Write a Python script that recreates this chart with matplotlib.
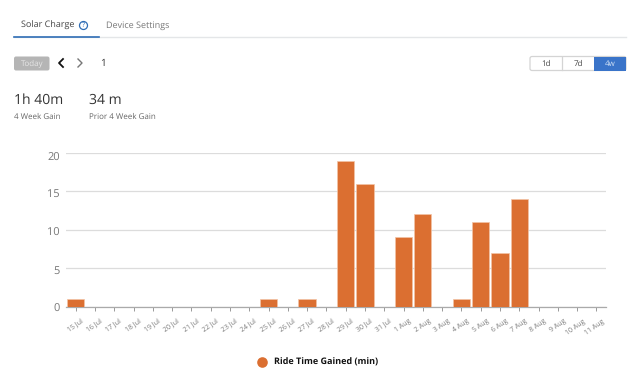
import matplotlib
matplotlib.use('Agg')
import matplotlib.pyplot as plt
from matplotlib.patches import FancyBboxPatch, Rectangle, Circle
from matplotlib.transforms import ScaledTranslation

plt.rcParams['font.family'] = ['Open Sans', 'DejaVu Sans']
plt.rcParams['text.hinting'] = 'no_hinting'
plt.rcParams['text.hinting_factor'] = 1

days = ['15 Jul', '16 Jul', '17 Jul', '18 Jul', '19 Jul', '20 Jul', '21 Jul', '22 Jul', '23 Jul', '24 Jul',
        '25 Jul', '26 Jul', '27 Jul', '28 Jul', '29 Jul', '30 Jul', '31 Jul', '1 Aug', '2 Aug', '3 Aug',
        '4 Aug', '5 Aug', '6 Aug', '7 Aug', '8 Aug', '9 Aug', '10 Aug', '11 Aug']
minutes = [1, 0, 0, 0, 0, 0, 0, 0, 0, 0,
           1, 0, 1, 0, 19, 16, 0, 9, 12, 0,
           1, 11, 7, 14, 0, 0, 0, 0]
y_ticks = [0, 5, 10, 15, 20]

ORANGE = '#db6f31'
W, H = 640, 388

fig = plt.figure(figsize=(6.4, 3.88), dpi=100)

# overlay in pixel coords for the page furniture
ui = fig.add_axes([0, 0, 1, 1])
ui.set_xlim(0, W)
ui.set_ylim(H, 0)
ui.axis('off')

# tabs
ui.plot([14, 626], [36.5, 36.5], color='#e4e6e8', lw=1)
ui.plot([14, 99], [36.5, 36.5], color='#2f6db5', lw=1.2)
ui.text(21, 25, 'Solar Charge', fontsize=6.6, color='#444444', va='center')
ui.add_patch(Circle((83.5, 25.5), 4, fc='white', ec='#2f6db5', lw=0.9))
ui.text(83.5, 25.5, '?', fontsize=5.2, color='#2f6db5', ha='center', va='center')
ui.text(106.5, 25, 'Device Settings', fontsize=6.6, color='#777777', va='center')

# date controls
ui.add_patch(FancyBboxPatch((14, 56.5), 35.5, 14, boxstyle='round,pad=0,rounding_size=2', fc='#b5b5b5', ec='none'))
ui.text(32, 63.5, 'Today', fontsize=5.6, color='#e6e6e6', ha='center', va='center')
ui.plot([63, 59, 63], [59, 63, 67], color='#111111', lw=1.3)
ui.plot([78, 82, 78], [59, 63, 67], color='#777777', lw=1)
ui.text(102.5, 63, '1', fontsize=7.5, color='#333333', ha='center', va='center')

# range buttons
ui.add_patch(FancyBboxPatch((530, 56.5), 96, 14, boxstyle='round,pad=0,rounding_size=2', fc='white', ec='#d4d4d4', lw=0.9))
ui.add_patch(Rectangle((594, 56.5), 32, 14, fc='#3a74c9', ec='none'))
ui.plot([562, 562], [57, 70], color='#d4d4d4', lw=0.9)
ui.text(546, 63.5, '1d', fontsize=5.8, color='#444444', ha='center', va='center')
ui.text(578, 63.5, '7d', fontsize=5.8, color='#444444', ha='center', va='center')
ui.text(610, 63.5, '4w', fontsize=5.8, color='#cfe0f5', ha='center', va='center')

# summary numbers
ui.text(14, 100.5, '1h 40m', fontsize=10.2, color='#333333', va='center')
ui.text(89, 100.5, '34 m', fontsize=10.2, color='#333333', va='center')
ui.text(14, 116.5, '4 Week Gain', fontsize=5.8, color='#666666', va='center')
ui.text(89, 116.5, 'Prior 4 Week Gain', fontsize=5.8, color='#666666', va='center')

# legend
ui.add_patch(Circle((262.5, 362.5), 5.3, fc=ORANGE, ec='none'))
ui.text(273.5, 362.5, 'Ride Time Gained (min)', fontsize=6.6, color='#111111', fontweight='bold', va='center')

# chart
left, right, top, bottom = 66, 606, 153, 306.5
ax = fig.add_axes([left / W, 1 - bottom / H, (right - left) / W, (bottom - top) / H])
ax.patch.set_alpha(0)
x = list(range(len(days)))
ax.bar(x, minutes, width=0.89, color=ORANGE, edgecolor='#f3c4a6', linewidth=0.5, zorder=3)
ax.set_xlim(-0.5, len(days) - 0.5)
ax.set_ylim(0, 20)
ax.set_yticks(y_ticks)
ax.set_xticks(x)
ax.set_xticklabels(days, rotation=35, ha='right', rotation_mode='anchor', fontsize=5.4, color='#777777')
ax.tick_params(axis='x', length=3, width=0.7, color='#999999', pad=4)
ax.tick_params(axis='y', length=0, labelsize=7.7, labelcolor='#777777', pad=4.5)
ax.grid(axis='y', color='#dcdcdc', lw=0.9, zorder=0)
for s in ['top', 'left', 'right']:
    ax.spines[s].set_visible(False)
ax.spines['bottom'].set_color('#aaaaaa')
ax.spines['bottom'].set_linewidth(0.9)

# x labels sit a bit to the right of the ticks, y labels a bit below their lines
shift = ScaledTranslation(5 / 100, -1 / 100, fig.dpi_scale_trans)
for lab in ax.get_xticklabels():
    lab.set_transform(lab.get_transform() + shift)
for val, lab in zip(y_ticks, ax.get_yticklabels()):
    down = 4 if val == 20 else 1.5
    lab.set_transform(lab.get_transform() + ScaledTranslation(0, -down / 100, fig.dpi_scale_trans))

fig.savefig('out.png', dpi=100)
